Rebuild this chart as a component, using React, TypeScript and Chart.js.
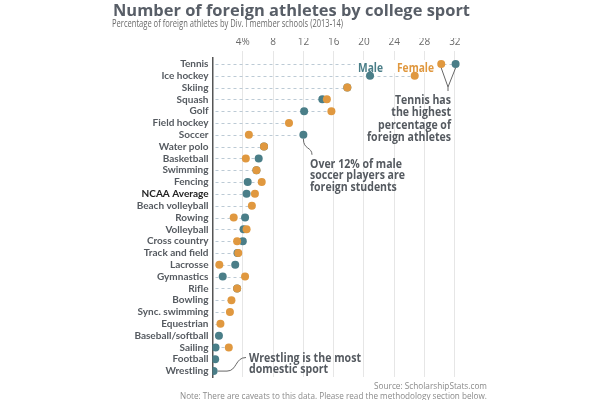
import React, { useEffect, useRef } from 'react';
import { Chart, registerables } from 'chart.js';

Chart.register(...registerables);

const categories = [
  'Tennis', 'Ice hockey', 'Skiing', 'Squash', 'Golf', 'Field hockey', 'Soccer',
  'Water polo', 'Basketball', 'Swimming', 'Fencing', 'NCAA Average', 'Beach volleyball',
  'Rowing', 'Volleyball', 'Cross country', 'Track and field', 'Lacrosse', 'Gymnastics',
  'Rifle', 'Bowling', 'Sync. swimming', 'Equestrian', 'Baseball/softball', 'Sailing',
  'Football', 'Wrestling',
];

const maleValues: (number | null)[] = [
  32.1, 20.8, 17.8, 14.5, 12.1, null, 12.0,
  6.8, 6.1, 5.8, 4.65, 4.5, null,
  4.3, 4.1, 4.0, 3.3, 3.0, 1.35,
  3.25, null, null, null, 0.85, 0.4,
  0.35, 0.15,
];

const femaleValues: (number | null)[] = [
  30.2, 26.7, 17.8, 15.1, 15.7, 10.1, 4.8,
  6.8, 4.4, 5.8, 6.5, 5.6, 5.2,
  2.8, 4.5, 3.25, 3.4, 0.9, 4.3,
  3.25, 2.5, 2.3, 1.05, null, 2.15,
  null, null,
];

const xTickValues = [4, 8, 12, 16, 20, 24, 28, 32];
const xTickLabels = ['4%', '8', '12', '16', '20', '24', '28', '32'];

const FONT = '"Open Sans", "Noto Sans", sans-serif';
const LABEL_FONT = 'Lato, "Noto Sans", sans-serif';
const MALE = '#4a7e88';
const FEMALE = '#e0983f';
const TEXT = '#555a60';

function fitText(
  ctx: CanvasRenderingContext2D, text: string, x: number, yBase: number,
  font: string, color: string, align: CanvasTextAlign, targetW?: number,
) {
  ctx.save();
  ctx.font = font;
  ctx.fillStyle = color;
  ctx.textBaseline = 'alphabetic';
  ctx.textAlign = align;
  const w = ctx.measureText(text).width;
  const sx = targetW ? targetW / w : 1;
  ctx.translate(x, yBase);
  ctx.scale(sx, 1);
  ctx.fillText(text, 0, 0);
  ctx.restore();
}

function scaleFor(ctx: CanvasRenderingContext2D, text: string, font: string, targetW: number) {
  ctx.save();
  ctx.font = font;
  const w = ctx.measureText(text).width;
  ctx.restore();
  return targetW / w;
}

function drawBlock(
  ctx: CanvasRenderingContext2D, lines: string[], bases: number[], x: number,
  align: CanvasTextAlign, font: string, refLine: string, refW: number,
) {
  const s = scaleFor(ctx, refLine, font, refW);
  lines.forEach((t, i) => {
    ctx.save();
    ctx.font = font;
    const w = ctx.measureText(t).width;
    ctx.restore();
    fitText(ctx, t, x, bases[i], font, TEXT, align, w * s);
  });
}

const decor = {
  id: 'decor',
  beforeDatasetsDraw(chart: any) {
    const { ctx, scales } = chart;
    const x = scales.x;
    const y = scales.y;
    ctx.save();
    ctx.strokeStyle = '#bccad5';
    ctx.lineWidth = 1;
    ctx.setLineDash([3, 3]);
    categories.forEach((_, i) => {
      const vals = [maleValues[i], femaleValues[i]].filter((v) => v != null) as number[];
      const m = Math.max(...vals);
      const py = Math.round(y.getPixelForValue(i)) + 0.5;
      ctx.beginPath();
      ctx.moveTo(x.getPixelForValue(0) + 3, py);
      ctx.lineTo(x.getPixelForValue(m), py);
      ctx.stroke();
    });
    ctx.restore();

    ctx.save();
    ctx.fillStyle = '#ffffff';
    ctx.fillRect(355, 60, 83, 13);
    ctx.restore();
    const lf = `bold 12.5px ${FONT}`;
    fitText(ctx, 'Male', 358, 72, lf, MALE, 'left', 25);
    fitText(ctx, 'Female', 397, 72, lf, FEMALE, 'left', 37);
  },
  afterDraw(chart: any) {
    const { ctx, scales } = chart;
    const x = scales.x;
    const y = scales.y;

    fitText(ctx, 'Number of foreign athletes by college sport', 113, 16,
      `bold 16px ${FONT}`, '#585e67', 'left', 357);
    fitText(ctx, 'Percentage of foreign athletes by Div. I member schools (2013-14)', 112, 27,
      `10px ${FONT}`, '#6a6a6a', 'left', 231);

    const af = `bold 12.5px ${FONT}`;
    drawBlock(ctx, ['Tennis has', 'the highest', 'percentage of', 'foreign athletes'],
      [103.5, 116, 128.5, 140.5], 451, 'right', af, 'foreign athletes', 84);

    const fy = y.getPixelForValue(0);
    const fx = x.getPixelForValue(femaleValues[0] as number);
    const mx = x.getPixelForValue(maleValues[0] as number);
    ctx.save();
    ctx.strokeStyle = '#666';
    ctx.lineWidth = 1;
    ctx.beginPath();
    ctx.moveTo(fx, fy + 4);
    ctx.lineTo(448, 87);
    ctx.lineTo(mx, fy + 4);
    ctx.moveTo(448, 87);
    ctx.lineTo(448, 91);
    ctx.stroke();

    const sIdx = categories.indexOf('Soccer');
    const sx0 = x.getPixelForValue(maleValues[sIdx] as number);
    const sy0 = y.getPixelForValue(sIdx);
    ctx.beginPath();
    ctx.moveTo(sx0, sy0 + 4);
    ctx.bezierCurveTo(sx0, sy0 + 15, 312, sy0 + 12, 312, sy0 + 20);
    ctx.stroke();

    const wIdx = categories.indexOf('Wrestling');
    const wx0 = x.getPixelForValue(maleValues[wIdx] as number);
    const wy0 = y.getPixelForValue(wIdx);
    ctx.beginPath();
    ctx.moveTo(wx0 + 4, wy0);
    ctx.lineTo(227, wy0);
    ctx.bezierCurveTo(237, wy0, 235, 357.5, 246, 357.5);
    ctx.stroke();
    ctx.restore();

    drawBlock(ctx, ['Over 12% of male', 'soccer players are', 'foreign students'],
      [167.5, 179, 190.5], 310, 'left', af, 'soccer players are', 95);

    drawBlock(ctx, ['Wrestling is the most', 'domestic sport'],
      [361.5, 373], 249, 'left', af, 'Wrestling is the most', 112);

    fitText(ctx, 'Source: ScholarshipStats.com', 487, 389, `8.5px ${FONT}`, '#8a8a8a', 'right', 113);
    fitText(ctx, 'Note: There are caveats to this data. Please read the methodology section below.',
      487, 398.5, `8.5px ${FONT}`, '#8a8a8a', 'right', 307);
  },
};

export default function App() {
  const ref = useRef<HTMLCanvasElement | null>(null);

  useEffect(() => {
    if (!ref.current) return;
    const chart = new Chart(ref.current, {
      type: 'line',
      data: {
        labels: categories,
        datasets: [
          {
            label: 'Female',
            data: femaleValues,
            showLine: false,
            pointRadius: 4,
            pointHoverRadius: 4,
            pointBackgroundColor: FEMALE,
            pointBorderColor: FEMALE,
            pointBorderWidth: 0,
            backgroundColor: FEMALE,
            borderColor: FEMALE,
            order: 0,
          },
          {
            label: 'Male',
            data: maleValues,
            showLine: false,
            pointRadius: 4,
            pointHoverRadius: 4,
            pointBackgroundColor: MALE,
            pointBorderColor: MALE,
            pointBorderWidth: 0,
            backgroundColor: MALE,
            borderColor: MALE,
            order: 1,
          },
        ],
      },
      options: {
        indexAxis: 'y',
        responsive: false,
        animation: false,
        layout: { padding: { top: 38, left: 0, right: 130, bottom: 23 } },
        plugins: {
          legend: { display: false },
          tooltip: { enabled: false },
          title: { display: false },
        },
        scales: {
          x: {
            type: 'linear',
            position: 'top',
            min: 0,
            max: 34,
            afterFit: (s: any) => { s.height = 20; },
            afterBuildTicks: (s: any) => {
              s.ticks = [0, ...xTickValues].map((v) => ({ value: v }));
            },
            ticks: {
              callback: (v: any) => {
                const i = xTickValues.indexOf(Number(v));
                return i >= 0 ? xTickLabels[i] : '';
              },
              font: { family: FONT, size: 10 },
              color: '#6a6a6a',
              padding: 3,
              maxRotation: 0,
            },
            grid: {
              color: (c: any) => (c.tick && c.tick.value === 0 ? 'rgba(0,0,0,0)' : '#e6e6e6'),
              tickLength: 7,
              drawTicks: true,
            },
            border: { display: false },
          },
          y: {
            type: 'category',
            offset: true,
            afterFit: (s: any) => { s.width = 212.5; },
            grid: { display: false, drawTicks: false },
            border: { display: true, color: '#555', width: 1.5 },
            ticks: {
              autoSkip: false,
              padding: 4,
              font: { family: LABEL_FONT, size: 10, weight: 'bold' },
              color: (c: any) => (c.tick && c.tick.label === 'NCAA Average' ? '#222' : '#555a60'),
            },
          },
        },
      },
      plugins: [decor],
    });
    return () => chart.destroy();
  }, []);

  return (
    <div style={{ position: 'fixed', left: 0, top: 0, width: 600, height: 400, background: '#fff' }}>
      <canvas ref={ref} width={600} height={400} style={{ width: 600, height: 400, display: 'block' }} />
    </div>
  );
}
